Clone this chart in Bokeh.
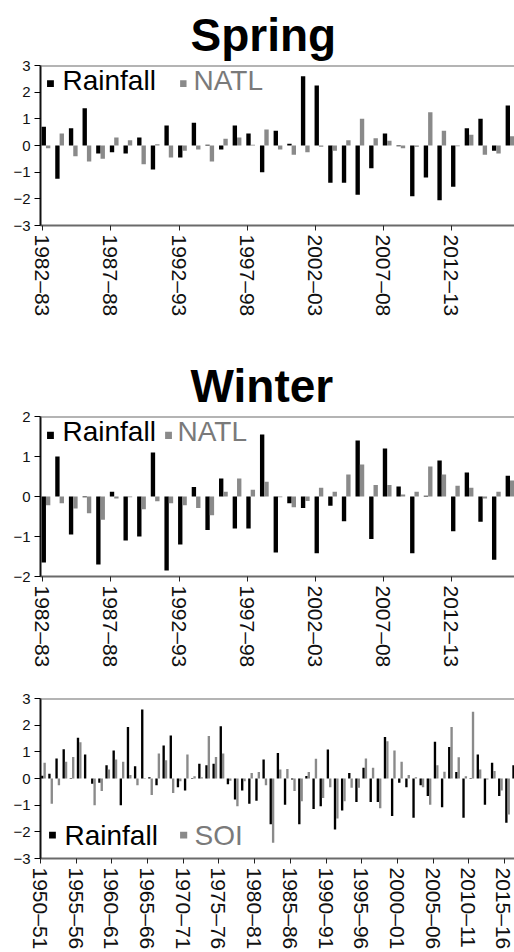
import numpy as np
from bokeh.plotting import figure
from bokeh.models import Range1d, FixedTicker, Label, BoxAnnotation, Span
from bokeh.layouts import column
from bokeh.embed import file_html
from bokeh.resources import INLINE

# ---------------- data ----------------
seasons_82 = ["1982–83", "1983–84", "1984–85", "1985–86", "1986–87", "1987–88", "1988–89",
              "1989–90", "1990–91", "1991–92", "1992–93", "1993–94", "1994–95", "1995–96",
              "1996–97", "1997–98", "1998–99", "1999–00", "2000–01", "2001–02", "2002–03",
              "2003–04", "2004–05", "2005–06", "2006–07", "2007–08", "2008–09", "2009–10",
              "2010–11", "2011–12", "2012–13", "2013–14", "2014–15", "2015–16", "2016–17"]
ticklabels_82 = ["1982–83", "1987–88", "1992–93", "1997–98", "2002–03", "2007–08", "2012–13"]

spring_rain = [0.70, -1.25, 0.65, 1.40, -0.30, -0.25, -0.30, 0.30, -0.90, 0.75, -0.45, 0.85,
               0.03, -0.15, 0.75, 0.45, -1.00, 0.55, 0.07, 2.60, 2.25, -1.40, -1.40, -1.85,
               -0.85, 0.45, -0.03, -1.90, -1.20, -2.05, -1.55, 0.65, 1.00, -0.20, 1.50]
spring_natl = [-0.10, 0.45, -0.40, -0.60, -0.50, 0.30, 0.20, -0.70, 0.05, -0.45, -0.20, -0.15,
               -0.60, 0.25, 0.30, 0.03, 0.60, -0.15, -0.35, -0.25, -0.05, -0.20, 0.20, 1.00,
               0.27, 0.18, -0.10, -0.05, 1.25, 0.55, -0.03, 0.40, -0.35, -0.30, 0.35]

winter_rain = [-1.65, 1.00, -0.95, -0.02, -1.70, 0.12, -1.10, -1.00, 1.10, -1.85, -1.20, 0.24,
               -0.84, 0.45, -0.80, -0.80, 1.55, -1.40, -0.17, -0.29, -1.42, -0.23, -0.62, 1.40,
               -1.06, 1.20, 0.25, -1.42, 0.02, 0.90, -0.87, 0.60, -0.63, -1.58, 0.52]
winter_natl = [-0.22, -0.17, -0.30, -0.42, -0.58, -0.05, -0.02, -0.32, -0.12, -0.17, -0.22, -0.29,
               -0.47, 0.12, 0.45, 0.17, 0.37, -0.02, -0.27, -0.11, 0.22, 0.12, 0.55, 0.80,
               0.29, 0.29, 0.05, 0.12, 0.75, 0.55, 0.27, 0.22, -0.05, 0.12, 0.40]

seasons_50 = ["1950–51", "1951–52", "1952–53", "1953–54", "1954–55", "1955–56", "1956–57",
              "1957–58", "1958–59", "1959–60", "1960–61", "1961–62", "1962–63", "1963–64",
              "1964–65", "1965–66", "1966–67", "1967–68", "1968–69", "1969–70", "1970–71",
              "1971–72", "1972–73", "1973–74", "1974–75", "1975–76", "1976–77", "1977–78",
              "1978–79", "1979–80", "1980–81", "1981–82", "1982–83", "1983–84", "1984–85",
              "1985–86", "1986–87", "1987–88", "1988–89", "1989–90", "1990–91", "1991–92",
              "1992–93", "1993–94", "1994–95", "1995–96", "1996–97", "1997–98", "1998–99",
              "1999–00", "2000–01", "2001–02", "2002–03", "2003–04", "2004–05", "2005–06",
              "2006–07", "2007–08", "2008–09", "2009–10", "2010–11", "2011–12", "2012–13",
              "2013–14", "2014–15", "2015–16", "2016–17"]
ticklabels_50 = ["1950–51", "1955–56", "1960–61", "1965–66", "1970–71", "1975–76", "1980–81",
                 "1985–86", "1990–91", "1995–96", "2000–01", "2005–06", "2010–11", "2015–16"]

annual_rain = [0.10, 0.18, 0.75, 1.10, 0.02, 1.53, 0.90, -0.20, -0.16, 0.50, 1.05, -1.00,
               1.93, 0.46, 2.59, 0.05, -0.25, 1.24, 1.61, -0.33, -0.45, 0.02, 0.55, 0.50,
               0.55, 1.96, -0.22, -0.79, -0.45, -0.95, -0.83, 0.71, -1.72, 0.96, -0.98, -0.04,
               -1.72, 0.09, -1.14, -1.04, 1.09, -1.91, -1.20, 0.21, -0.88, 0.40, -0.88, -0.88,
               1.56, -1.41, -0.16, -0.33, -1.47, -0.25, -0.66, 1.38, -1.08, 1.18, 0.24, -1.47,
               0.02, 0.90, -0.98, 0.59, -0.66, -1.66, 0.50]
annual_soi = [0.59, -0.95, -0.25, 0.63, 0.81, 1.36, 0.00, -1.00, -0.47, 0.34, 0.71, 0.63,
              0.13, -0.25, 0.02, -0.62, 0.94, 0.68, -0.54, -0.10, 0.90, 0.08, 0.05, 1.59,
              0.81, 0.94, -0.08, -1.04, -0.10, 0.21, 0.24, -0.25, -2.41, 0.34, 0.36, -0.47,
              -0.85, 0.24, 0.74, -0.73, -0.33, -1.50, -0.85, -0.35, -0.35, 0.75, 0.40, -1.12,
              1.40, 1.05, 0.63, 0.13, 0.05, -0.33, -0.98, 0.50, 0.25, 1.93, 0.80, 0.08,
              2.50, 0.34, -0.04, 0.28, -0.45, -1.35, 0.20]

yticks_3 = [-3, -2, -1, 0, 1, 2, 3]
yticks_2 = [-2, -1, 0, 1, 2]

BLACK = "#000000"
GRAY = "#8a8a8a"
FONT = "Liberation Sans"


def panel(title, seasons, ticklabels, rain, index, ylim, yticks, x_range,
          off_b, off_g, bar_w, frame_w, border_left, border_top, border_bottom,
          xlab_size, legend):
    p = figure(frame_width=frame_w, frame_height=160,
               min_border_left=border_left, min_border_right=0,
               min_border_top=border_top, min_border_bottom=border_bottom,
               x_range=Range1d(*x_range), y_range=Range1d(-ylim, ylim),
               output_backend="svg", toolbar_location=None,
               title=title if title else None)
    p.background_fill_color = "white"
    p.border_fill_color = "white"
    p.outline_line_color = None
    p.grid.visible = False

    idx = np.arange(len(seasons))
    p.vbar(x=idx + off_b, top=rain, bottom=0, width=bar_w,
           fill_color=BLACK, line_color=None)
    p.vbar(x=idx + off_g, top=index, bottom=0, width=bar_w,
           fill_color=GRAY, line_color=None)

    # top frame line
    p.add_layout(Span(location=ylim, dimension="width", line_color="#6a6a6a", line_width=2))

    # y axis
    p.yaxis.ticker = FixedTicker(ticks=yticks)
    p.yaxis.axis_line_color = "#111111"
    p.yaxis.axis_line_width = 2
    p.yaxis.major_tick_out = 6
    p.yaxis.major_tick_in = 0
    p.yaxis.minor_tick_line_color = None
    p.yaxis.major_label_text_font = FONT
    p.yaxis.major_label_text_font_size = "15px"
    p.yaxis.major_label_text_color = "#111111"
    p.yaxis.major_label_standoff = 4

    # x axis
    pos = [seasons.index(t) for t in ticklabels]
    p.xaxis.ticker = FixedTicker(ticks=pos)
    p.xaxis.major_label_overrides = {k: t for k, t in zip(pos, ticklabels)}
    p.xaxis.major_label_orientation = "vertical"
    p.xaxis.axis_line_color = "#6a6a6a"
    p.xaxis.axis_line_width = 2
    p.xaxis.major_tick_out = 5
    p.xaxis.major_tick_in = 0
    p.xaxis.major_tick_line_color = "#222222"
    p.xaxis.minor_tick_line_color = None
    p.xaxis.major_label_text_font = FONT
    p.xaxis.major_label_text_font_size = xlab_size
    p.xaxis.major_label_text_color = "#111111"
    p.xaxis.major_label_standoff = 4

    if title:
        p.title.align = "left"
        p.title.offset = 150
        p.title.standoff = 10
        p.title.text_font = FONT
        p.title.text_font_size = "46px"
        p.title.text_font_style = "bold"
        p.title.text_color = "#000000"

    # legend (squares + labels)
    (bx0, bx1, by0, by1, tx, ty, gx0, gx1, gtx, idx_name) = legend
    p.add_layout(BoxAnnotation(left=bx0, right=bx1, bottom=by0, top=by1,
                               fill_color=BLACK, fill_alpha=1, line_color=None))
    p.add_layout(BoxAnnotation(left=gx0, right=gx1, bottom=by0, top=by1,
                               fill_color=GRAY, fill_alpha=1, line_color=None))
    p.add_layout(Label(x=tx, y=ty, text="Rainfall", text_font=FONT,
                       text_font_size="28px", text_color="#000000",
                       text_baseline="alphabetic"))
    p.add_layout(Label(x=gtx, y=ty, text=idx_name, text_font=FONT,
                       text_font_size="28px", text_color="#7a7a7a",
                       text_baseline="alphabetic"))
    return p


p1 = panel("Spring", seasons_82, ticklabels_82, spring_rain, spring_natl, 3, yticks_3,
           (-0.15, 34.58), 0.09, 0.41, 0.32, 474, 40, 65, 115, "21px",
           (0.33, 0.83, 2.19, 2.45, 1.46, 2.44, 10.08, 10.55, 11.06, "NATL"))

p2 = panel("Winter", seasons_82, ticklabels_82, winter_rain, winter_natl, 2, yticks_2,
           (-0.15, 34.58), 0.09, 0.41, 0.32, 474, 40, 76, 114, "21px",
           (0.33, 0.83, 1.44, 1.62, 1.46, 1.62, 8.98, 9.48, 9.89, "NATL"))

p3 = panel(None, seasons_50, ticklabels_50, annual_rain, annual_soi, 3, yticks_3,
           (0.0, 66.67), 0.25, 0.58, 0.33, 476, 38, 8, 94, "21px",
           (1.2, 2.15, -2.25, -2.0, 3.36, -2.13, 19.55, 20.55, 21.57, "SOI"))

layout = column(p1, p2, p3, spacing=0)

with open("out.html", "w") as f:
    f.write(file_html(layout, INLINE))
